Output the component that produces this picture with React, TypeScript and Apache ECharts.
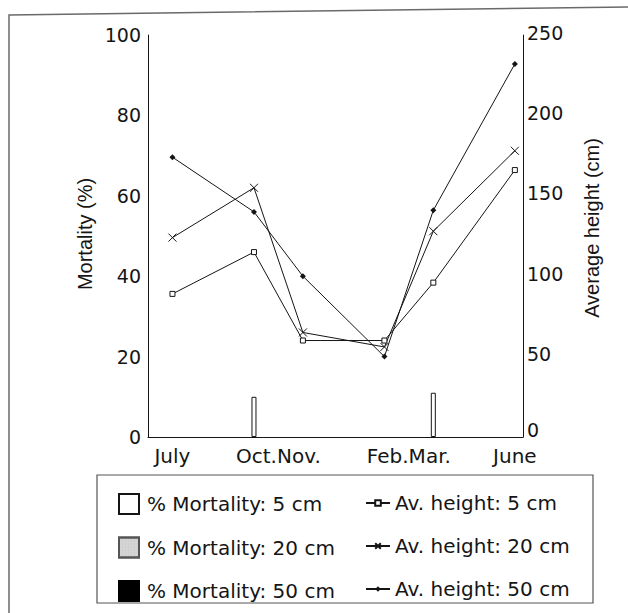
import React, { useEffect, useRef } from "react";
import * as echarts from "echarts";

// x positions (month slots) of the sampling dates
const months = ["July", "Oct", "Nov", "Feb", "Mar", "June"];
const monthPos = [0, 5, 8, 13, 16, 21];
const catLabels = ["July", "Oct.Nov.", "Feb.Mar.", "June"];
const catLabelPos = [0, 6.5, 14.5, 21];

// % mortality (left axis)
const mort5: (number | null)[] = [null, 10, null, null, 11, null];
const mort20: (number | null)[] = [null, null, null, null, null, null];
const mort50: (number | null)[] = [null, null, null, null, null, null];

// average height, cm (right axis)
const height5 = [89, 115, 60, 60, 96, 166];
const height20 = [124, 155, 65, 56, 128, 178];
const height50 = [174, 140, 100, 50, 141, 232];

const leftTicks = [0, 20, 40, 60, 80, 100];
const rightTicks = [0, 50, 100, 150, 200, 250];

const FONT = "DejaVu Sans";
const INK = "#151515";

function pairs(vals: (number | null)[]) {
  const out: number[][] = [];
  vals.forEach((v, i) => {
    if (v != null) out.push([monthPos[i], v]);
  });
  return out;
}

export default function App() {
  const ref = useRef<HTMLDivElement>(null);
  useEffect(() => {
    if (!ref.current) return;
    const chart = echarts.init(ref.current, null, { renderer: "svg" });
    const crossPath = "path://M0,0L10,10M10,0L0,10";
    const lineBase = {
      type: "line" as const,
      yAxisIndex: 1,
      lineStyle: { color: INK, width: 1 },
      symbolKeepAspect: true,
    };
    const barBase = {
      type: "bar" as const,
      yAxisIndex: 0,
      barWidth: 5,
      barGap: "-100%",
    };
    const legendText = {
      fontFamily: FONT,
      fontSize: 20,
      color: INK,
      lineHeight: 20,
      height: 20,
    };
    chart.setOption({
      animation: false,
      backgroundColor: "#fff",
      grid: { left: 148, right: 105, top: 35, bottom: 176, containLabel: false },
      xAxis: {
        type: "value",
        min: -1.5,
        max: 21.5,
        splitLine: { show: false },
        axisLine: { show: true, onZero: false, lineStyle: { color: INK, width: 1 } },
        axisTick: { show: false },
        axisLabel: {
          customValues: catLabelPos,
          formatter: (v: number) => {
            const i = catLabelPos.findIndex((p) => Math.abs(p - v) < 1e-6);
            return i >= 0 ? catLabels[i] : "";
          },
          fontFamily: FONT,
          fontSize: 20,
          color: INK,
          margin: 9,
        },
      },
      yAxis: [
        {
          type: "value",
          min: 0,
          max: 100,
          interval: 20,
          splitLine: { show: false },
          axisLine: { show: true, onZero: false, lineStyle: { color: INK, width: 1 } },
          axisTick: { show: false },
          axisLabel: {
            fontFamily: FONT,
            fontSize: 19,
            color: INK,
            margin: 7,
            formatter: (v: number) => (leftTicks.includes(v) ? String(v) : ""),
          },
        },
        {
          type: "value",
          min: 0,
          max: 250,
          interval: 50,
          position: "right",
          splitLine: { show: false },
          axisLine: { show: true, onZero: false, lineStyle: { color: INK, width: 1 } },
          axisTick: { show: false },
          axisLabel: {
            fontFamily: FONT,
            fontSize: 19,
            color: INK,
            margin: 4,
            formatter: (v: number) =>
              rightTicks.includes(v) ? (v === 0 ? "{z|0}" : "{n|" + v + "}") : "",
            rich: {
              n: { fontFamily: FONT, fontSize: 19, color: INK, lineHeight: 24, verticalAlign: "top" },
              z: { fontFamily: FONT, fontSize: 19, color: INK, lineHeight: 34, verticalAlign: "top" },
            },
          },
        },
      ],
      legend: [
        {
          orient: "vertical",
          left: 113,
          top: 488,
          itemWidth: 20,
          itemHeight: 20,
          itemGap: 21.5,
          icon: "rect",
          data: ["% Mortality: 5 cm", "% Mortality: 20 cm", "% Mortality: 50 cm"],
          textStyle: { ...legendText, padding: [0, 0, 0, 3] },
          selectedMode: false,
        },
        {
          orient: "vertical",
          left: 360,
          top: 488,
          itemWidth: 24,
          itemHeight: 7,
          itemGap: 23,
          data: ["Av. height: 5 cm", "Av. height: 20 cm", "Av. height: 50 cm"],
          textStyle: { ...legendText, padding: [0, 0, 0, 0] },
          selectedMode: false,
        },
      ],
      series: [
        {
          ...barBase,
          name: "% Mortality: 5 cm",
          data: pairs(mort5),
          itemStyle: { color: "#fff", borderColor: INK, borderWidth: 1 },
        },
        {
          ...barBase,
          name: "% Mortality: 20 cm",
          data: pairs(mort20),
          itemStyle: {
            color: "#d4d4d4",
            borderColor: "#555",
            borderWidth: 1,
            decal: {
              symbol: "rect",
              symbolSize: 0.5,
              color: "rgba(90,90,90,0.5)",
              dashArrayX: [1, 2],
              dashArrayY: [1, 2],
              rotation: 0,
            },
          },
        },
        {
          ...barBase,
          name: "% Mortality: 50 cm",
          data: pairs(mort50),
          itemStyle: { color: "#000", borderColor: "#000", borderWidth: 1 },
        },
        {
          ...lineBase,
          name: "Av. height: 5 cm",
          data: height5.map((v, i) => [monthPos[i], v]),
          symbol: "rect",
          symbolSize: 5,
          itemStyle: { color: "#fff", borderColor: INK, borderWidth: 1 },
        },
        {
          ...lineBase,
          name: "Av. height: 20 cm",
          data: height20.map((v, i) => [monthPos[i], v]),
          symbol: crossPath,
          symbolSize: 8,
          itemStyle: { color: "none", borderColor: INK, borderWidth: 1 },
        },
        {
          ...lineBase,
          name: "Av. height: 50 cm",
          data: height50.map((v, i) => [monthPos[i], v]),
          symbol: "diamond",
          symbolSize: 6,
          itemStyle: { color: INK, borderColor: INK, borderWidth: 0 },
        },
      ],
      graphic: [
        {
          type: "polyline",
          shape: { points: [[9, 613], [9, 15], [628, 7]] },
          style: { fill: "none", stroke: "#6a6a6a", lineWidth: 1.5 },
          silent: true,
        },
        {
          type: "rect",
          shape: { x: 97, y: 475, width: 496, height: 128 },
          style: { fill: "none", stroke: "#555", lineWidth: 1.2 },
          silent: true,
        },
        {
          type: "text",
          x: 85,
          y: 234,
          rotation: Math.PI / 2,
          style: {
            text: "Mortality (%)",
            fontFamily: "Liberation Sans",
            fontSize: 20,
            fill: INK,
            textAlign: "center",
            textVerticalAlign: "middle",
          },
          silent: true,
        },
        {
          type: "text",
          x: 592,
          y: 228,
          rotation: Math.PI / 2,
          style: {
            text: "Average height (cm)",
            fontFamily: "Liberation Sans",
            fontSize: 20,
            fill: INK,
            textAlign: "center",
            textVerticalAlign: "middle",
          },
          silent: true,
        },
      ],
    });
    return () => chart.dispose();
  }, []);
  return (
    <div
      ref={ref}
      style={{ position: "fixed", left: 0, top: 0, width: 628, height: 613, background: "#fff" }}
    />
  );
}
